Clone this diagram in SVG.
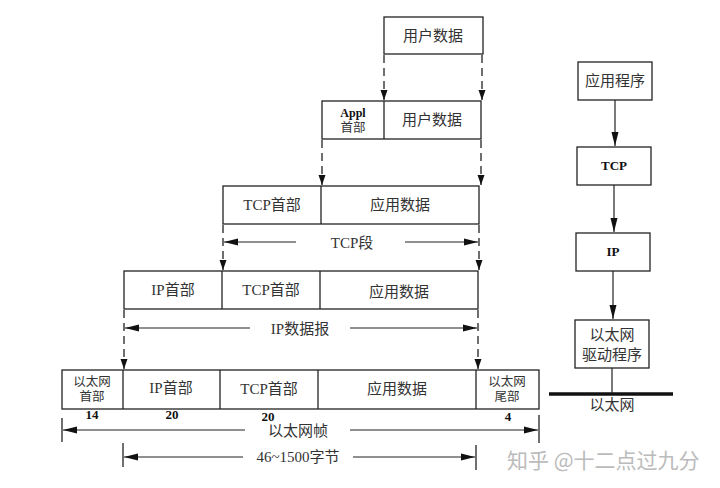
<svg xmlns="http://www.w3.org/2000/svg" width="720" height="488" viewBox="0 0 720 488">
<defs>
<marker id="ah" viewBox="0 0 10 10" refX="10" refY="5" markerWidth="10" markerHeight="10" markerUnits="userSpaceOnUse" orient="auto"><path d="M0,1.5 L10,5 L0,8.5 Z" fill="#111"/></marker>
<marker id="ah2" viewBox="0 0 14 10" refX="14" refY="5" markerWidth="14" markerHeight="10" markerUnits="userSpaceOnUse" orient="auto"><path d="M0,1.5 L14,5 L0,8.5 Z" fill="#111"/></marker>
</defs>
<style>
rect{fill:#fff;stroke:#222;stroke-width:1.3}
.sep{stroke:#222;stroke-width:1.3}
.t{font-family:"Liberation Serif","Noto Sans CJK SC",serif;font-size:15px;fill:#333;text-anchor:middle}
.s{font-size:12.5px}
.b{font-weight:bold;fill:#111;font-size:13px}
.d{stroke:#222;stroke-width:1.3;stroke-dasharray:8 5;fill:none}
.dim{stroke:#222;stroke-width:1.2;fill:none}
.tick{stroke:#222;stroke-width:1.3}
.wm{font-family:"Noto Sans CJK SC",sans-serif;font-size:21px;fill:#bbb}
</style>
<rect x="0" y="0" width="720" height="488" style="fill:#fff;stroke:none"/>

<g id="row1">
<rect x="384" y="17" width="99" height="37"/>
<text class="t" x="433" y="41">用户数据</text>
</g>

<g id="row2">
<rect x="322" y="101" width="159" height="38"/>
<line class="sep" x1="384" y1="101" x2="384" y2="139"/>
<text class="t b" x="353" y="117" style="font-size:12px">Appl</text>
<text class="t s" x="353" y="132">首部</text>
<text class="t" x="432" y="125">用户数据</text>
</g>

<g id="row3">
<rect x="223" y="186" width="256" height="38"/>
<line class="sep" x1="321" y1="186" x2="321" y2="224"/>
<text class="t" x="272" y="210">TCP首部</text>
<text class="t" x="400" y="210">应用数据</text>
</g>

<g id="row4">
<rect x="124" y="271" width="354" height="38"/>
<line class="sep" x1="222" y1="271" x2="222" y2="309"/>
<line class="sep" x1="320" y1="271" x2="320" y2="309"/>
<text class="t" x="173" y="295">IP首部</text>
<text class="t" x="271" y="295">TCP首部</text>
<text class="t" x="399" y="297">应用数据</text>
</g>

<g id="row5">
<rect x="62" y="370" width="477" height="39"/>
<line class="sep" x1="123" y1="370" x2="123" y2="409"/>
<line class="sep" x1="220" y1="370" x2="220" y2="409"/>
<line class="sep" x1="318" y1="370" x2="318" y2="409"/>
<line class="sep" x1="476" y1="370" x2="476" y2="409"/>
<text class="t s" x="92" y="386">以太网</text>
<text class="t s" x="92" y="401">首部</text>
<text class="t" x="171" y="393">IP首部</text>
<text class="t" x="269" y="394">TCP首部</text>
<text class="t" x="397" y="394">应用数据</text>
<text class="t s" x="507" y="386">以太网</text>
<text class="t s" x="507" y="401">尾部</text>
<text class="t b" x="92" y="419">14</text>
<text class="t b" x="172" y="419">20</text>
<text class="t b" x="268" y="421">20</text>
<text class="t b" x="508" y="421">4</text>
</g>

<g id="stack">
<g id="app"><rect x="578" y="62" width="74" height="38"/><text class="t" x="615" y="86">应用程序</text></g>
<g id="tcp"><rect x="577" y="147" width="74" height="38"/><text class="t b" x="614" y="170">TCP</text></g>
<g id="ip"><rect x="576" y="233" width="74" height="38"/><text class="t b" x="613" y="256">IP</text></g>
<g id="drv"><rect x="575" y="320" width="74" height="48"/><text class="t" x="612" y="340">以太网</text><text class="t" x="612" y="360">驱动程序</text></g>
<g id="eth"><line x1="549" y1="394" x2="673" y2="394" stroke="#111" stroke-width="3.5"/><text class="t" x="612" y="410">以太网</text></g>
</g>

<g id="connectors">
<line class="d" x1="384" y1="55" x2="384" y2="100" marker-end="url(#ah)"/>
<line class="d" x1="482" y1="55" x2="482" y2="100" marker-end="url(#ah)"/>
<line class="d" x1="322" y1="140" x2="322" y2="185" marker-end="url(#ah)"/>
<line class="d" x1="481" y1="140" x2="481" y2="185" marker-end="url(#ah)"/>
<line class="d" x1="223" y1="225" x2="223" y2="270" marker-end="url(#ah)"/>
<line class="d" x1="479" y1="225" x2="479" y2="270" marker-end="url(#ah)"/>
<line class="d" x1="124" y1="310" x2="124" y2="369" marker-end="url(#ah)"/>
<line class="d" x1="478" y1="310" x2="478" y2="369" marker-end="url(#ah)"/>

<line class="dim" x1="296" y1="242" x2="224" y2="242" marker-end="url(#ah2)"/>
<line class="dim" x1="405" y1="242" x2="478" y2="242" marker-end="url(#ah2)"/>
<text class="t" x="352" y="248">TCP段</text>

<line class="dim" x1="250" y1="328" x2="125" y2="328" marker-end="url(#ah2)"/>
<line class="dim" x1="350" y1="328" x2="477" y2="328" marker-end="url(#ah2)"/>
<text class="t" x="300" y="334">IP数据报</text>

<line class="tick" x1="62" y1="418" x2="62" y2="442"/>
<line class="tick" x1="539" y1="415" x2="539" y2="443"/>
<line class="dim" x1="245" y1="430" x2="63" y2="430" marker-end="url(#ah2)"/>
<line class="dim" x1="350" y1="430" x2="538" y2="430" marker-end="url(#ah2)"/>
<text class="t" x="298" y="436">以太网帧</text>

<line class="tick" x1="123" y1="443" x2="123" y2="467"/>
<line class="tick" x1="476" y1="445" x2="476" y2="470"/>
<line class="dim" x1="243" y1="457" x2="124" y2="457" marker-end="url(#ah2)"/>
<line class="dim" x1="353" y1="457" x2="475" y2="457" marker-end="url(#ah2)"/>
<text class="t" x="298" y="462">46~1500字节</text>

<line class="dim" x1="615" y1="100" x2="615" y2="146" marker-end="url(#ah2)"/>
<line class="dim" x1="614" y1="185" x2="614" y2="232" marker-end="url(#ah2)"/>
<line class="dim" x1="613" y1="271" x2="613" y2="319" marker-end="url(#ah2)"/>
<line class="dim" x1="612" y1="368" x2="612" y2="393"/>
</g>

<text class="wm" x="507" y="468">知乎 @十二点过九分</text>
</svg>
